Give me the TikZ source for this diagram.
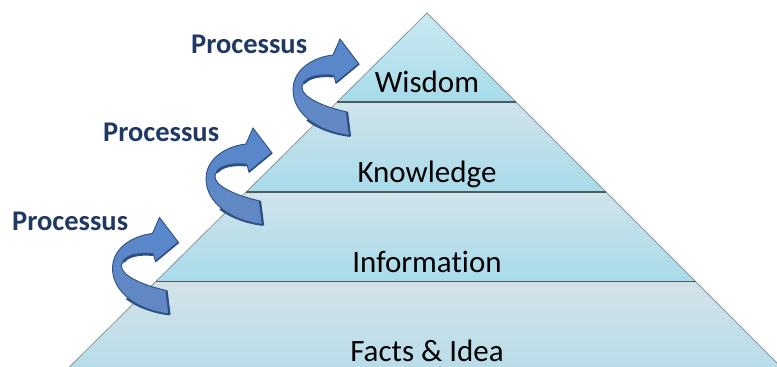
\documentclass[tikz,border=0pt]{standalone}
\usepackage{fontspec}
\setmainfont{Carlito}[Ligatures=NoCommon]
\definecolor{procblue}{HTML}{1F3864}
\definecolor{edgegray}{HTML}{8A979D}
\definecolor{divgray}{HTML}{4E5B61}
\definecolor{wtop}{HTML}{CBE9F2}
\definecolor{wbot}{HTML}{A6DBE9}
\definecolor{btop}{HTML}{D0E3EA}
\definecolor{bbot}{HTML}{A8DBEA}
\definecolor{ftop}{HTML}{D4E2E8}
\definecolor{fbot}{HTML}{B3DCE9}
\definecolor{arrtop}{HTML}{5687CC}
\definecolor{arrmid}{HTML}{9DBBE6}
\definecolor{arrbot}{HTML}{6388C2}
\definecolor{arredge}{HTML}{2C4F86}
\begin{document}
\begin{tikzpicture}[x=1pt,y=-1pt,
  layerlabel/.style={font=\fontsize{31}{36}\selectfont, text=black, anchor=base, inner sep=0pt},
  proclabel/.style={font=\fontsize{28.5}{34}\selectfont\bfseries, text=procblue, anchor=base west, inner sep=0pt},
  pyredge/.style={draw=edgegray, line width=0.8pt},
  divider/.style={draw=divgray, line width=1.1pt},
  procarrow/.pic={
    \path[shade, top color=arrtop, middle color=arrmid, bottom color=arrbot, draw=arredge, line width=0.9pt]
      (0,0) -- (-19,-25) -- (-26,-9)
      .. controls (-45,-7) and (-66,5) .. (-66,26)
      .. controls (-66,50) and (-40,68) .. (-9,72)
      -- (-12,48)
      .. controls (-35,43) and (-58,33) .. (-57,23)
      .. controls (-56,15) and (-42,11) .. (-25,12)
      -- (-23,19) -- cycle;
    \draw[arredge, line width=2.8pt, line cap=round] (-55,19) .. controls (-50,13) and (-40,11) .. (-26,12);
    \draw[arredge, line width=2.2pt] (-12,48) -- (-9,72);
    \draw[arredge, line width=1.8pt] (-52,56) .. controls (-40,65) and (-25,70) .. (-9,72);
    \draw[arredge, line width=1.6pt] (-23,19) -- (0,0);
  }
]
\useasboundingbox (0,0) rectangle (777,367);
\clip (0,0) rectangle (777,367);
% layers
\path[shade, top color=wtop, bottom color=wbot] (427,13) -- (516,102) -- (337.1,102) -- cycle;
\path[shade, top color=btop, bottom color=bbot] (337.1,102) -- (516,102) -- (606,192) -- (246.2,192) -- cycle;
\path[shade, top color=btop, bottom color=bbot] (246.2,192) -- (606,192) -- (695.5,281.5) -- (155.8,281.5) -- cycle;
\path[shade, top color=ftop, bottom color=fbot] (155.8,281.5) -- (695.5,281.5) -- (794,380) -- (56.3,380) -- cycle;
% edges and dividers
\draw[pyredge] (56.3,380) -- (427,13) -- (794,380);
\draw[divider] (337.1,102) -- (516,102);
\draw[divider] (246.2,192) -- (606,192);
\draw[divider] (155.8,281.5) -- (695.5,281.5);
% labels
\node[layerlabel] (wisdom) at (427,92) {Wisdom};
\node[layerlabel] (knowledge) at (427,182) {Knowledge};
\node[layerlabel] (information) at (427,272) {Information};
\node[layerlabel] (facts) at (427,361) {Facts \& Idea};
% process arrows
\pic at (359,64) {procarrow};
\pic at (272,153) {procarrow};
\pic at (178.5,242.5) {procarrow};
\node[proclabel] (p1) at (191,53) {Processus};
\node[proclabel] (p2) at (103,141) {Processus};
\node[proclabel] (p3) at (12,230) {Processus};
\end{tikzpicture}
\end{document}
